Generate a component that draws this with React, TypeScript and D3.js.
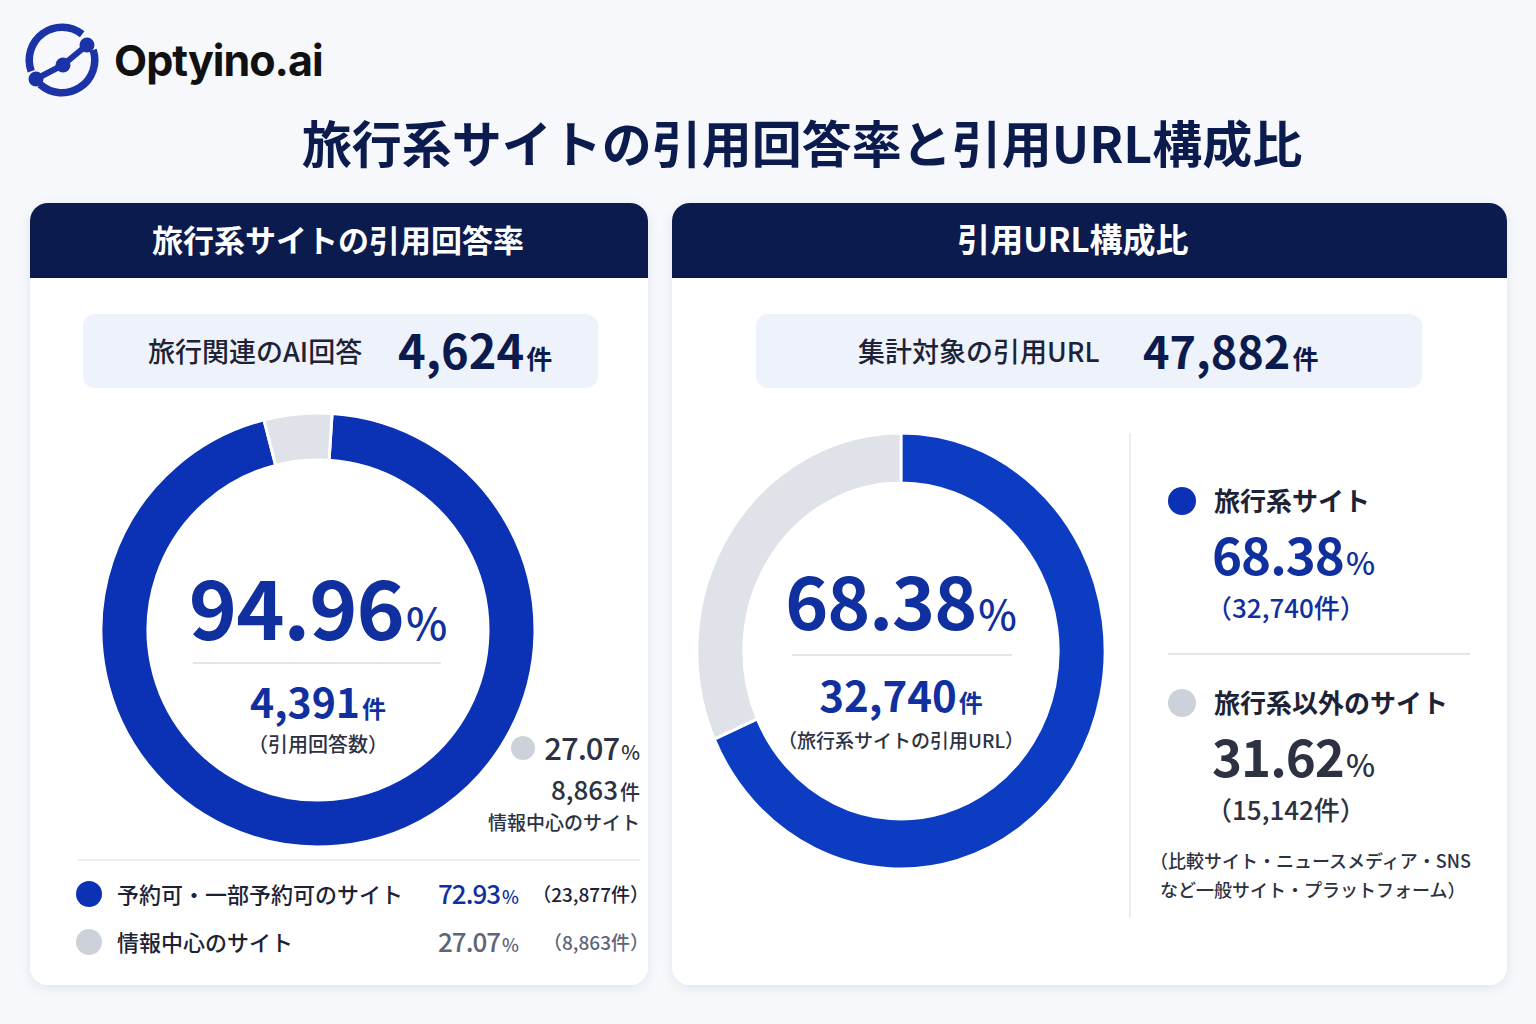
import React, { useRef, useEffect } from 'react';
import * as d3 from 'd3';

const W = 1536;
const H = 1024;

// left panel: AI answers citing travel sites
const answerTotal = 4624;
const citedAnswers = 4391;
const citeLabels = ['引用あり', '引用なし'];
const citeShares = [94.96, 5.04];

// breakdown of the travel sites that were cited
const siteLabels = ['予約可・一部予約可のサイト', '情報中心のサイト'];
const siteShares = [72.93, 27.07];
const siteCounts = [23877, 8863];

// right panel: cited URLs by site type
const urlTotal = 47882;
const urlLabels = ['旅行系サイト', '旅行系以外のサイト'];
const urlShares = [68.38, 31.62];
const urlCounts = [32740, 15142];

const JP = '"Noto Sans CJK JP", "Noto Sans", sans-serif';
const NAVY = '#0c1b4d';
const INK = '#1d2336';
const BLUE = '#0b32b4';
const BLUE_TEXT = '#10309f';
const GRAY_ARC = '#dfe2e9';
const GRAY_DOT = '#cdd1da';
const SLATE = '#2d3242';

const fmt = d3.format(',');
const pct = d3.format('.2f');

const drawPct = (g, value, x, y, size, pctSize, color, anchor = 'start', weight = 700) => {
	const t = g.append('text')
		.attr('x', x).attr('y', y)
		.attr('text-anchor', anchor)
		.attr('font-family', JP)
		.attr('font-weight', weight)
		.attr('fill', color);
	t.append('tspan').attr('font-size', size).attr('letter-spacing', -1).text(pct(value));
	t.append('tspan').attr('font-size', pctSize).attr('font-weight', 500).attr('dx', 2).text('%');
	return t;
};

const drawCount = (g, value, x, y, size, unitSize, color, anchor = 'start') => {
	const t = g.append('text')
		.attr('x', x).attr('y', y)
		.attr('text-anchor', anchor)
		.attr('font-family', JP)
		.attr('font-weight', 700)
		.attr('fill', color);
	t.append('tspan').attr('font-size', size).text(fmt(value));
	t.append('tspan').attr('font-size', unitSize).attr('dx', 2).text('件');
	return t;
};

const drawPanel = (svg, x, y, w, h, title, titleX, titleSize, id) => {
	const defs = svg.select('defs');
	defs.append('clipPath').attr('id', id)
		.append('rect').attr('x', x).attr('y', y).attr('width', w).attr('height', h).attr('rx', 18);
	svg.append('rect')
		.attr('x', x).attr('y', y).attr('width', w).attr('height', h).attr('rx', 18)
		.attr('fill', '#ffffff')
		.attr('filter', 'url(#shadow)');
	svg.append('rect')
		.attr('x', x).attr('y', y).attr('width', w).attr('height', 75)
		.attr('fill', NAVY)
		.attr('clip-path', `url(#${ id })`);
	svg.append('text')
		.attr('x', titleX).attr('y', y + 49)
		.attr('text-anchor', 'middle')
		.attr('font-family', JP).attr('font-weight', 700).attr('font-size', titleSize)
		.attr('fill', '#ffffff')
		.text(title);
};

const drawSummary = (svg, x, y, w, label, labelX, value, valueX, valueSize) => {
	svg.append('rect')
		.attr('x', x).attr('y', y).attr('width', w).attr('height', 74).attr('rx', 12)
		.attr('fill', '#eef2fb');
	svg.append('text')
		.attr('x', labelX).attr('y', y + 48)
		.attr('font-family', JP).attr('font-weight', 500).attr('font-size', 27)
		.attr('fill', INK)
		.text(label);
	drawCount(svg, value, valueX, y + 55, valueSize, 26, NAVY);
};

const renderChart = (ref) => {
	const svg = d3.select(ref.current);
	svg.selectAll('*').remove();
	svg.attr('width', W).attr('height', H);

	const defs = svg.append('defs');
	const shadow = defs.append('filter').attr('id', 'shadow')
		.attr('x', '-10%').attr('y', '-10%').attr('width', '120%').attr('height', '120%');
	shadow.append('feDropShadow')
		.attr('dx', 0).attr('dy', 3).attr('stdDeviation', 6)
		.attr('flood-color', '#1b2a5a').attr('flood-opacity', 0.08);

	svg.append('rect').attr('width', W).attr('height', H).attr('fill', '#f6f8fc');

	// logo
	const logo = svg.append('g').attr('transform', 'translate(62,60)');
	const ring = d3.arc().innerRadius(29).outerRadius(36.5);
	const toRad = (deg) => deg * Math.PI / 180;
	[[-110, 38], [72, 222]].forEach(([a, b]) => {
		logo.append('path').attr('d', ring({ startAngle: toRad(a), endAngle: toRad(b) })).attr('fill', '#1c33a8');
	});
	const nodes = [[-26, 19], [1, 5], [25, -15]];
	logo.append('path')
		.attr('d', d3.line()(nodes))
		.attr('stroke', '#1c33a8').attr('stroke-width', 6).attr('fill', 'none');
	logo.selectAll('circle').data(nodes).join('circle')
		.attr('cx', (d) => d[0]).attr('cy', (d) => d[1]).attr('r', 7.5)
		.attr('fill', '#1c33a8');
	svg.append('text')
		.attr('x', 114).attr('y', 76)
		.attr('font-family', 'Inter, "Noto Sans", sans-serif').attr('font-weight', 700).attr('font-size', 43)
		.attr('letter-spacing', -1)
		.attr('fill', '#111111')
		.text('Optyino.ai');

	svg.append('text')
		.attr('x', 802).attr('y', 163)
		.attr('text-anchor', 'middle')
		.attr('font-family', JP).attr('font-weight', 700).attr('font-size', 50)
		.attr('fill', NAVY)
		.text('旅行系サイトの引用回答率と引用URL構成比');

	// ---------- left panel ----------
	drawPanel(svg, 30, 203, 618, 782, '旅行系サイトの引用回答率', 338, 31, 'clipL');
	drawSummary(svg, 83, 314, 515, '旅行関連のAI回答', 148, answerTotal, 398, 47);

	const lc = { x: 318, y: 630 };
	const leftPie = d3.pie().sort(null).value((d) => d.value)
		.startAngle(0.065).endAngle(0.065 + Math.PI * 2);
	const leftArc = d3.arc().innerRadius(170).outerRadius(217);
	const leftData = citeLabels.map((k, i) => ({ key: k, value: citeShares[i] }));
	svg.append('g').attr('transform', `translate(${ lc.x },${ lc.y })`)
		.selectAll('path').data(leftPie(leftData)).join('path')
		.attr('d', leftArc)
		.attr('fill', (d, i) => (i === 0 ? BLUE : GRAY_ARC))
		.attr('stroke', '#ffffff').attr('stroke-width', 3);

	drawPct(svg, citeShares[0], lc.x, 640, 82, 44, BLUE_TEXT, 'middle');
	svg.append('line')
		.attr('x1', 193).attr('x2', 441).attr('y1', 663).attr('y2', 663)
		.attr('stroke', '#d9dde6').attr('stroke-width', 1.5);
	drawCount(svg, citedAnswers, lc.x, 718, 41, 24, BLUE_TEXT, 'middle');
	svg.append('text')
		.attr('x', lc.x).attr('y', 752).attr('text-anchor', 'middle')
		.attr('font-family', JP).attr('font-weight', 500).attr('font-size', 20)
		.attr('fill', SLATE)
		.text('（引用回答数）');

	// callout for the information-site share
	svg.append('circle').attr('cx', 523).attr('cy', 748).attr('r', 12).attr('fill', GRAY_DOT);
	drawPct(svg, siteShares[1], 640, 760, 31, 20, SLATE, 'end', 500);
	drawCount(svg, siteCounts[1], 640, 800, 26, 20, SLATE, 'end').attr('font-weight', 500);
	svg.append('text')
		.attr('x', 640).attr('y', 830).attr('text-anchor', 'end')
		.attr('font-family', JP).attr('font-weight', 500).attr('font-size', 19)
		.attr('fill', SLATE)
		.text(siteLabels[1]);

	svg.append('line')
		.attr('x1', 78).attr('x2', 640).attr('y1', 860).attr('y2', 860)
		.attr('stroke', '#e4e7ee').attr('stroke-width', 1.5);

	const rows = svg.append('g');
	siteLabels.forEach((label, i) => {
		const y = 894 + i * 48;
		rows.append('circle').attr('cx', 89).attr('cy', y).attr('r', 13)
			.attr('fill', i === 0 ? BLUE : GRAY_DOT);
		rows.append('text')
			.attr('x', 117).attr('y', y + 9)
			.attr('font-family', JP).attr('font-weight', 500).attr('font-size', 22)
			.attr('fill', INK)
			.text(label);
		drawPct(rows, siteShares[i], 438, y + 10, 26, 18, i === 0 ? BLUE_TEXT : '#5f6578', 'start', 500);
		rows.append('text')
			.attr('x', 649).attr('y', y + 8).attr('text-anchor', 'end')
			.attr('font-family', JP).attr('font-weight', 500).attr('font-size', 19)
			.attr('fill', i === 0 ? INK : '#5f6578')
			.text(`（${ fmt(siteCounts[i]) }件）`);
	});

	// ---------- right panel ----------
	drawPanel(svg, 672, 203, 835, 782, '引用URL構成比', 1073, 33, 'clipR');
	drawSummary(svg, 756, 314, 666, '集計対象の引用URL', 858, urlTotal, 1143, 45);

	// this ring is drawn slightly narrower than it is tall
	const rc = { x: 901, y: 651 };
	const rightPie = d3.pie().sort(null).value((d) => d.value);
	const rightArc = d3.arc().innerRadius(168).outerRadius(218);
	const rightData = urlLabels.map((k, i) => ({ key: k, value: urlShares[i] }));
	svg.append('g').attr('transform', `translate(${ rc.x },${ rc.y }) scale(0.936,1)`)
		.selectAll('path').data(rightPie(rightData)).join('path')
		.attr('d', rightArc)
		.attr('fill', (d, i) => (i === 0 ? '#0c3cc2' : GRAY_ARC))
		.attr('stroke', '#ffffff').attr('stroke-width', 3);

	drawPct(svg, urlShares[0], rc.x, 630, 73, 41, BLUE_TEXT, 'middle');
	svg.append('line')
		.attr('x1', 792).attr('x2', 1012).attr('y1', 655).attr('y2', 655)
		.attr('stroke', '#d9dde6').attr('stroke-width', 1.5);
	drawCount(svg, urlCounts[0], rc.x, 712, 42, 24, BLUE_TEXT, 'middle');
	svg.append('text')
		.attr('x', rc.x).attr('y', 748).attr('text-anchor', 'middle')
		.attr('font-family', JP).attr('font-weight', 500).attr('font-size', 19)
		.attr('fill', SLATE)
		.text('（旅行系サイトの引用URL）');

	svg.append('line')
		.attr('x1', 1130).attr('x2', 1130).attr('y1', 433).attr('y2', 918)
		.attr('stroke', '#e4e7ee').attr('stroke-width', 1.5);

	const legend = svg.append('g');
	urlLabels.forEach((label, i) => {
		const y = 501 + i * 202;
		const color = i === 0 ? BLUE_TEXT : SLATE;
		legend.append('circle').attr('cx', 1182).attr('cy', y).attr('r', 14)
			.attr('fill', i === 0 ? BLUE : GRAY_DOT);
		legend.append('text')
			.attr('x', 1214).attr('y', y + 10)
			.attr('font-family', JP).attr('font-weight', 700).attr('font-size', 26)
			.attr('fill', INK)
			.text(label);
		drawPct(legend, urlShares[i], 1212, y + 74, 51, 31, color);
		legend.append('text')
			.attr('x', 1206).attr('y', y + 117)
			.attr('font-family', JP).attr('font-weight', 500).attr('font-size', 26)
			.attr('fill', color)
			.text(`（${ fmt(urlCounts[i]) }件）`);
	});
	legend.append('line')
		.attr('x1', 1168).attr('x2', 1470).attr('y1', 654).attr('y2', 654)
		.attr('stroke', '#d9dde6').attr('stroke-width', 1.5);

	const note = ['（比較サイト・ニュースメディア・SNS', 'など一般サイト・プラットフォーム）'];
	legend.selectAll('text.note').data(note).join('text')
		.attr('class', 'note')
		.attr('x', (d, i) => (i === 0 ? 1150 : 1160))
		.attr('y', (d, i) => 868 + i * 29)
		.attr('font-family', JP).attr('font-weight', 500).attr('font-size', 18)
		.attr('fill', SLATE)
		.text((d) => d);
};

const App = () => {
	const ref = useRef(null);

	useEffect(() => {
		renderChart(ref);
	}, []);

	return (
		<div style={{ position: 'absolute', left: 0, top: 0, width: W, height: H }}>
			<svg ref={ ref } style={{ display: 'block' }}/>
		</div>
	);
};

export default App;
